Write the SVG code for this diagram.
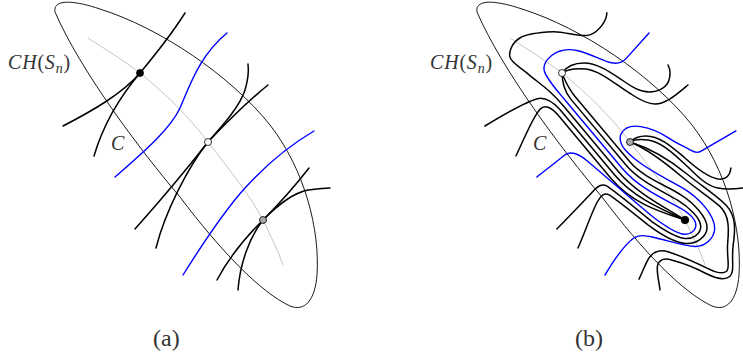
<svg xmlns="http://www.w3.org/2000/svg" width="743" height="360" viewBox="0 0 743 360">
<style>
.ell{fill:none;stroke:#000;stroke-width:0.9}
.cc{fill:none;stroke:#c4c4c4;stroke-width:1}
.k{fill:none;stroke:#000;stroke-width:1.5;stroke-linecap:round;stroke-linejoin:round}
.bl{fill:none;stroke:#0000ff;stroke-width:1.4;stroke-linecap:round;stroke-linejoin:round}
.dot{stroke:#000;stroke-width:0.8}
.m{font-family:"Liberation Serif","DejaVu Serif",serif;font-style:italic;fill:#333}
.up{font-style:normal}
.cap{font-family:"Liberation Serif","DejaVu Serif",serif;fill:#333}
</style>
<defs>
<path id="ellipse" d="M55,12 C53,0 70,-1 100,9 C160,28 230,75 270,125 C305,170 320,230 317,275 C315,300 305,312 290,306 C260,292 220,250 180,197 C140,150 80,70 55,12 Z"/>
<path id="curveC" d="M88,38 C105,49 123,60 140,73 C165,93 190,118 208,142 C228,168 250,195 263,220 C270,235 278,250 283,265"/>
</defs>

<g id="panel-a">
  <use href="#ellipse" class="ell"/>
  <use href="#curveC" class="cc"/>
  <g id="a-blue">
    <path class="bl" d="M115,177 C140,155 170,130 180,108 C190,85 200,55 227,33"/>
    <path class="bl" d="M183,275 C205,240 225,210 245,188 C265,166 290,145 314,131"/>
  </g>
  <g id="a-black">
    <path class="k" d="M63,126 C92,111 122,94 140,73"/>
    <path class="k" d="M94,156 C104,122 123,93 140,73"/>
    <path class="k" d="M140,73 C155,55 171,35 185,13"/>
    <path class="k" d="M208,142 C224,124 240,106 245,90 C248,80 249,72 248,64"/>
    <path class="k" d="M208,142 C228,121 248,101 268,85"/>
    <path class="k" d="M135,229 C160,201 190,165 208,142"/>
    <path class="k" d="M156,248 C165,212 188,167 208,142"/>
    <path class="k" d="M263,220 C280,203 295,186 309,168"/>
    <path class="k" d="M263,220 C277,206 292,193 308,190 C316,189 323,188 330,188"/>
    <path class="k" d="M217,280 C229,257 246,237 263,220"/>
    <path class="k" d="M238,290 C240,264 249,238 263,220"/>
  </g>
  <g id="a-points">
    <circle class="dot" cx="140" cy="73" r="3.5" fill="#000"/>
    <circle class="dot" cx="208" cy="142" r="3.5" fill="#fff"/>
    <circle class="dot" cx="263" cy="220" r="3.5" fill="#aaa"/>
  </g>
  <text class="m" x="8" y="69" font-size="20" letter-spacing="0.8">CH<tspan class="up">(</tspan>S<tspan font-size="14" dy="4">n</tspan><tspan class="up" dy="-4">)</tspan></text>
  <text class="m" x="111" y="150" font-size="20">C</text>
  <text class="cap" x="153" y="346" font-size="24">(a)</text>
</g>

<g id="panel-b">
  <use href="#ellipse" class="ell" transform="translate(422,0)"/>
  <use href="#curveC" class="cc" transform="translate(422,0)"/>
  <g id="b-screen-curves">
    <path class="k" d="M562,73 C567,66 574,63 584,63 C597,63 610,72 622,80 C632,87 640,92 649,92 C659,92 667,87 669,80 C671,74 670,69 668,65"/>
    <path class="k" d="M562,73 C568,69 576,68 586,69 C601,71 616,85 631,94 C640,100 647,104 655,104 C666,104 676,95 688,85"/>
    <path class="k" d="M630,142 C634,138 639,136 646,136 C660,136 672,147 685,158 C696,168 707,177 718,179 C726,180 730,175 731,168"/>
    <path class="k" d="M630,142 C635,139 641,139 648,140 C662,142 675,155 688,167 C698,177 707,186 718,188 C727,190 735,189 743,188"/>
  </g>
  <g id="b-channel-curves" transform="matrix(0.642 0.767 -0.767 0.642 685 220)">
    <path class="k" d="M-209,-73 C-202.9,-67.9 -199.6,-54.8 -202.9,-45.9 C-206.2,-37 -221.9,-28.8 -229,-19.5 C-236.1,-10.2 -244.1,1.6 -245.5,9.8 C-246.9,18 -242.7,26.8 -237.4,29.6 C-232.2,32.4 -222.7,28.2 -214,26.8 C-205.3,25.4 -193.2,22.4 -185,21.3 C-176.8,20.2 -172,20 -165,20 L-80,20 C-50,20 -20,6 0,0"/>
    <path class="k" d="M-200.5,93.1 C-197,70 -193,45 -187,34 C-183,28 -176,25.5 -165,25 L-80,25 C-48,25 -20,9 0,0"/>
    <path class="k" d="M-157.6,88.5 C-166,70 -177,50 -178,40 C-178.5,33 -172,30 -160,30 L-80,30 C-45,30 -20,12 0,0"/>
    <path class="bl" d="M-166.5,-92.5 L-161.5,-58 C-160.5,-51 -166,-45 -172,-41.5 C-185,-34 -205,-27 -210,-12 C-213,-2 -212,8 -205,12 C-198,15.5 -185,15 -170,15 L-80,15 C-55,15 -30,3 -15,-3 C-5,-7 6,-9 11,-5 C15,-1 15,6 9,11 C3,16 -8,19 -20,22 C-45,27 -80,32 -108,37 C-120,39 -126,43 -127,50 L-128,86"/>
    <path class="k" d="M-192,0 C-186,4 -178,10 -165,10 L-80,10 C-58,10 -35,-2 -20,-7 C-8,-11 8,-13.5 15,-8 C21,-3 20,7 13,13 C6,19 -7,23 -20,26.5 C-45,31 -65,35 -76,38 C-81,40 -82,44 -81,52 C-79,68 -77,88 -75.3,104"/>
    <path class="k" d="M-192,0 C-185,2 -177,5 -165,5 L-80,5 C-60,5 -38,-8 -22,-13 C-8,-17.5 12,-19 20,-12 C27,-6 26,7 18,15 C10,23 -5,28 -20,31.5 C-38,35 -58,39 -68,42 C-73,44 -73,49 -70,56 C-64,70 -54,86 -47.2,100.1"/>
    <path class="bl" d="M-35.6,-96.2 L-42.5,-56 C-43.2,-52 -46,-50.5 -50,-49 C-58,-46 -66,-42 -75,-39.5 C-85,-36.5 -93,-32 -100,-26 C-107,-20 -110,-13 -107,-6 C-104,-1 -99,1 -92,0.8 C-87,0.6 -84,0.2 -80,-0.5 C-60,-4 -40,-14 -24,-19.5 C-10,-24 14,-27 26,-17 C33,-10 33,2 27,9 C20,17 5,26 -8,36 C-13,40 -18,44 -19,50 C-20,62 -15,80 -9.2,96.7"/>
    <path class="k" d="M-95,-8 C-80,-16 -55,-22 -34,-25.5 C-15,-29 0,-34 12,-35.5 C25,-37 35,-28 45,-18 C55,-8 66,-4 66,1 C66,6 60,10 52,13.5 C40,19 25,26 14,33 C6,38 4,45 6,52 C9,60 13,67 15.8,73.2"/>
    <path class="k" d="M-95,-8 C-78,-19 -55,-27 -34,-31 C-14,-35 2,-40 15,-41 C30,-42 40,-32 50,-21 C60,-10 72,-5 72,2 C72,9 64,14 55,18 C45,22 32,29 22,36 C16,40 14,45 17,50 C22,56 32,60 37.6,64.1"/>
  </g>
  <g id="b-points">
    <circle class="dot" cx="562" cy="73" r="3.5" fill="#fff"/>
    <circle class="dot" cx="630" cy="142" r="3.5" fill="#aaa"/>
    <circle class="dot" cx="685" cy="220" r="3.8" fill="#000"/>
  </g>
  <text class="m" x="430" y="69" font-size="20" letter-spacing="0.8">CH<tspan class="up">(</tspan>S<tspan font-size="14" dy="4">n</tspan><tspan class="up" dy="-4">)</tspan></text>
  <text class="m" x="533" y="150" font-size="20">C</text>
  <text class="cap" x="575" y="346" font-size="24">(b)</text>
</g>
</svg>
